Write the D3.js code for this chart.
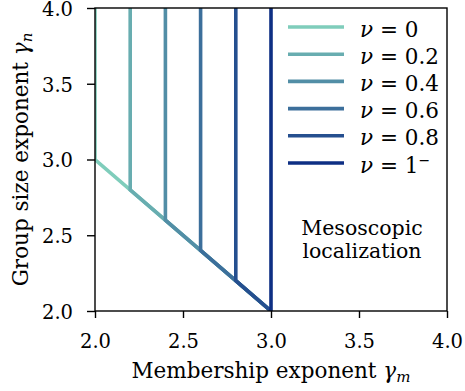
<!DOCTYPE html>
<html><head><meta charset="utf-8">
<script src="https://cdn.jsdelivr.net/npm/d3@7"></script>
<style>body{margin:0;background:#fff}svg{display:block}</style>
</head><body><svg id="c" width="465" height="391"></svg>
<script>
const nus = [0, 0.2, 0.4, 0.6, 0.8, 1];
const nuLabels = ["0", "0.2", "0.4", "0.6", "0.8", "1"];
const colors = ["#7fcdbb", "#68adb0", "#528ea6", "#3c6f9b", "#254f8f", "#0e2f84"];
const xTicks = [2.0, 2.5, 3.0, 3.5, 4.0];
const yTicks = [2.0, 2.5, 3.0, 3.5, 4.0];
const xDomain = [2, 4], yDomain = [2, 4];
const FONT = '"DejaVu Serif", "Liberation Serif", serif';

const svg = d3.select("#c").attr("font-family", FONT);
const m = {l: 95, r: 447, t: 8, b: 311};
const x = d3.scaleLinear().domain(xDomain).range([m.l, m.r]);
const y = d3.scaleLinear().domain(yDomain).range([m.b, m.t]);

svg.append("clipPath").attr("id", "clip").append("rect")
  .attr("x", m.l).attr("y", m.t).attr("width", m.r - m.l).attr("height", m.b - m.t);

const line = d3.line().x(d => x(d[0])).y(d => y(d[1]));
const g = svg.append("g").attr("clip-path", "url(#clip)");
nus.forEach((nu, i) => {
  const gm = 2 + nu;
  const pts = [[gm, 4], [gm, 5 - gm], [3, 2]];
  g.append("path").attr("d", line(pts)).attr("fill", "none")
    .attr("stroke", colors[i]).attr("stroke-width", 3.6).attr("stroke-linejoin", "miter");
});

svg.append("rect").attr("x", m.l).attr("y", m.t).attr("width", m.r - m.l).attr("height", m.b - m.t)
  .attr("fill", "none").attr("stroke", "#000").attr("stroke-width", 1.4);

const xAxis = svg.append("g").attr("transform", `translate(0,${m.b})`)
  .call(d3.axisBottom(x).tickValues(xTicks).tickFormat(d3.format(".1f")).tickSize(7).tickPadding(6));
const yAxis = svg.append("g").attr("transform", `translate(${m.l},0)`)
  .call(d3.axisLeft(y).tickValues(yTicks).tickFormat(d3.format(".1f")).tickSize(8).tickPadding(14));
[xAxis, yAxis].forEach(a => {
  a.attr("font-family", FONT).attr("font-size", 19.5);
  a.select(".domain").remove();
  a.selectAll("line").attr("stroke", "#000").attr("stroke-width", 1.4);
  a.selectAll("text").attr("fill", "#000");
});
xAxis.selectAll("text").attr("dy", 24);
yAxis.selectAll("text").attr("dy", "0.38em");

const xl = svg.append("text").attr("x", x(3)).attr("y", 378).attr("text-anchor", "middle").attr("font-size", 21.5);
xl.append("tspan").text("Membership exponent ");
xl.append("tspan").attr("font-style", "italic").text("γ");
xl.append("tspan").attr("font-style", "italic").attr("font-size", 15).attr("dy", 4).text("m");

const yl = svg.append("text").attr("transform", `translate(28,${(m.t + m.b) / 2}) rotate(-90)`)
  .attr("text-anchor", "middle").attr("font-size", 21.5);
yl.append("tspan").text("Group size exponent ");
yl.append("tspan").attr("font-style", "italic").text("γ");
yl.append("tspan").attr("font-style", "italic").attr("font-size", 15).attr("dy", 4).text("n");

const lg = svg.append("g");
nus.forEach((nu, i) => {
  const yy = 27 + i * 27.2;
  lg.append("line").attr("x1", 288).attr("x2", 344).attr("y1", yy).attr("y2", yy)
    .attr("stroke", colors[i]).attr("stroke-width", 3.6);
  const t = lg.append("text").attr("x", 360).attr("y", yy + 9.5).attr("font-size", 21.5);
  t.append("tspan").attr("font-style", "italic").text("ν");
  t.append("tspan").text(" = " + nuLabels[i]);
  if (i === nus.length - 1) t.append("tspan").attr("font-size", 14).attr("dy", -8).text("−");
});

const ann = svg.append("text").attr("text-anchor", "middle").attr("font-size", 20.5);
ann.append("tspan").attr("x", 362).attr("y", 235).text("Mesoscopic");
ann.append("tspan").attr("x", 362).attr("y", 258).text("localization");
</script></body></html>
